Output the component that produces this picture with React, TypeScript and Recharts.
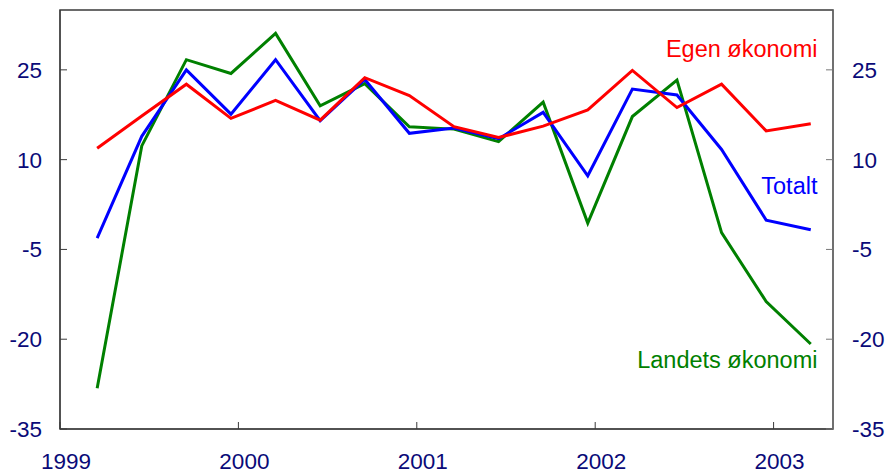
import React from 'react';
import {
  LineChart,
  Line,
  XAxis,
  YAxis,
  ReferenceArea,
  ReferenceDot,
} from 'recharts';

// quarterly survey points, plotted mid-way through the last month of the quarter
const quarters = [
  '1999K1', '1999K2', '1999K3', '1999K4',
  '2000K1', '2000K2', '2000K3', '2000K4',
  '2001K1', '2001K2', '2001K3', '2001K4',
  '2002K1', '2002K2', '2002K3', '2002K4',
  '2003K1',
];
const egen = [11.9, 17.3, 22.6, 16.9, 19.9, 16.6, 23.7, 20.7, 15.5, 13.7, 15.6, 18.3, 24.9, 18.7, 22.6, 14.8, 16.0];
const totalt = [-3.1, 13.9, 25.0, 17.6, 26.7, 16.5, 23.4, 14.4, 15.3, 13.5, 17.9, 7.3, 21.8, 20.8, 11.7, -0.1, -1.7];
const landets = [-28.2, 12.3, 26.7, 24.4, 31.1, 19.0, 22.7, 15.5, 15.1, 13.0, 19.6, -0.6, 17.2, 23.3, -2.2, -13.7, -20.8];

const yearTicks = [1999, 2000, 2001, 2002, 2003];
const valueTicks = [-35, -20, -5, 10, 25];

// series name labels placed in data coordinates (right-aligned)
const seriesLabels = [
  { text: 'Egen økonomi', x: 2003.246, y: 28.5, color: '#FF0000' },
  { text: 'Totalt', x: 2003.246, y: 5.7, color: '#0000FF' },
  { text: 'Landets økonomi', x: 2003.246, y: -23.4, color: '#008000' },
];

const toYear = (q: string) => {
  const year = Number(q.slice(0, 4));
  const k = Number(q.slice(5));
  return year + (3 * k - 0.5) / 12;
};

const data = quarters.map((q, i) => ({
  t: toYear(q),
  egen: egen[i],
  totalt: totalt[i],
  landets: landets[i],
}));

if (typeof document !== 'undefined') document.body.style.margin = '0';

const FONT = '"Liberation Sans", Arial, sans-serif';
const TICK_COLOR = '#0A0A78';
const AXIS = '#3a3a3a';

const YearTick = (props: any) => {
  const { x, y, payload } = props;
  return (
    <text x={x + 6} y={y} dy="0.71em" textAnchor="middle" fill={TICK_COLOR} fontSize={22.5} fontFamily={FONT}>
      {payload.value}
    </text>
  );
};

const ValueTick = (props: any) => {
  const { x, y, payload, textAnchor } = props;
  return (
    <text x={x} y={y} dy="0.35em" textAnchor={textAnchor} fill={TICK_COLOR} fontSize={22.5} fontFamily={FONT}>
      {payload.value}
    </text>
  );
};

const NameLabel = (color: string, text: string) => (props: any) => {
  const { viewBox } = props;
  return (
    <text x={viewBox.x} y={viewBox.y} dy="0.35em" textAnchor="end" fill={color} fontSize={23.5} fontFamily={FONT}>
      {text}
    </text>
  );
};

export default function App() {
  return (
    <LineChart width={889} height={475} data={data} margin={{ top: 10, right: 0, bottom: 6, left: 0 }}>
      <XAxis
        dataKey="t"
        type="number"
        domain={[1999, 2003.333]}
        ticks={yearTicks}
        allowDataOverflow
        height={40}
        stroke={AXIS}
        tickSize={-7}
        tickMargin={31}
        tick={<YearTick />}
      />
      <YAxis
        yAxisId="left"
        domain={[-35, 35]}
        ticks={valueTicks}
        width={60}
        stroke={AXIS}
        tickSize={-7}
        tickMargin={25}
        tick={<ValueTick />}
      />
      <YAxis
        yAxisId="right"
        orientation="right"
        domain={[-35, 35]}
        ticks={valueTicks}
        width={56}
        stroke="#777"
        tickSize={-7}
        tickMargin={26}
        tick={<ValueTick />}
      />
      <ReferenceArea
        yAxisId="left"
        x1={1999}
        x2={2003.333}
        y1={-35}
        y2={35}
        fill="none"
        stroke={AXIS}
        strokeWidth={1.5}
        ifOverflow="visible"
      />
      <Line yAxisId="left" dataKey="landets" stroke="#008000" strokeWidth={3} dot={false} isAnimationActive={false} />
      <Line yAxisId="left" dataKey="totalt" stroke="#0000FF" strokeWidth={3} dot={false} isAnimationActive={false} />
      <Line yAxisId="right" dataKey="egen" stroke="#FF0000" strokeWidth={3} dot={false} isAnimationActive={false} />
      {seriesLabels.map((l) => (
        <ReferenceDot
          key={l.text}
          yAxisId="left"
          x={l.x}
          y={l.y}
          r={0}
          fill="none"
          stroke="none"
          label={NameLabel(l.color, l.text)}
        />
      ))}
    </LineChart>
  );
}
